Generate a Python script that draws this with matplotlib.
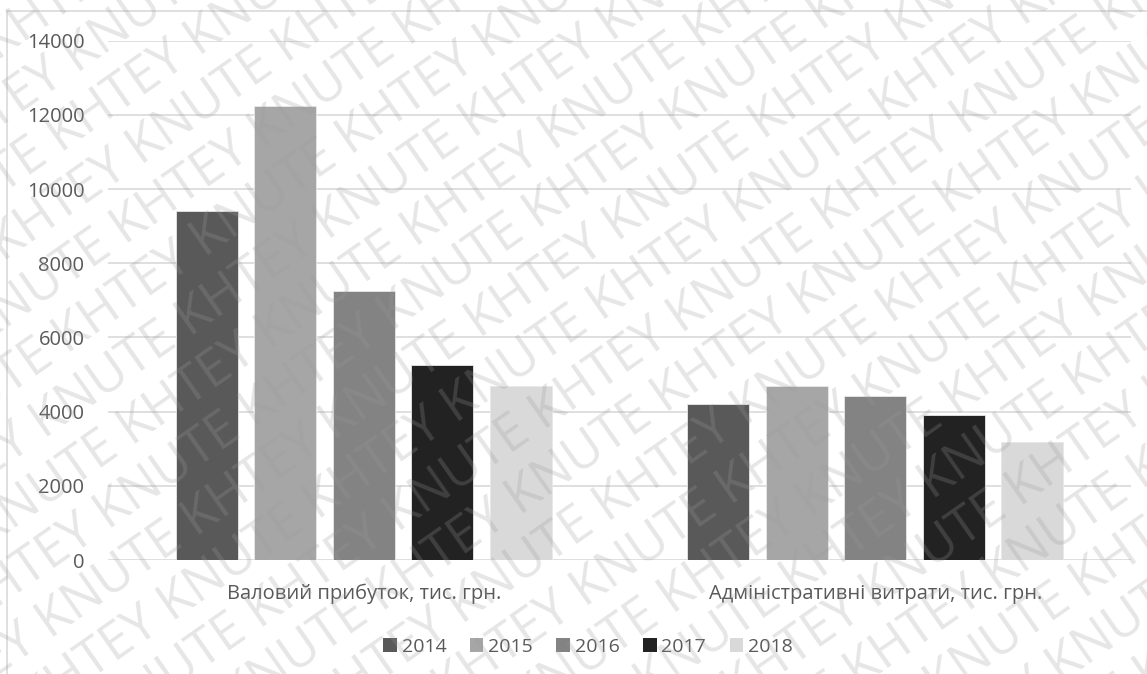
import numpy as np
import matplotlib
matplotlib.use("Agg")
import matplotlib.pyplot as plt
from matplotlib.patches import Rectangle, Patch

plt.rcParams["font.family"] = ["Open Sans", "DejaVu Sans"]

categories = ["Валовий прибуток, тис. грн.", "Адміністративні витрати, тис. грн."]
years = ["2014", "2015", "2016", "2017", "2018"]
values = {
    "2014": [9420, 4210],
    "2015": [12240, 4690],
    "2016": [7260, 4430],
    "2017": [5260, 3900],
    "2018": [4690, 3190],
}
colors = ["#595959", "#a6a6a6", "#838383", "#222222", "#d9d9d9"]
yticks = [0, 2000, 4000, 6000, 8000, 10000, 12000, 14000]

W, H = 1147, 674
fig = plt.figure(figsize=(W / 100, H / 100), dpi=100)
fig.patch.set_facecolor("white")

# chart area frame (only top and left edges fall inside the image)
fig.patches.append(Rectangle((7 / W, -0.1), 1.2, 1 - 11 / H + 0.1,
                             transform=fig.transFigure, fill=False,
                             edgecolor="#d9d9d9", linewidth=1.2, zorder=0))

ax = fig.add_axes([108 / W, 114 / H, (1131 - 108) / W, (633.3 - 114) / H])
ax.set_facecolor("none")

x = np.arange(len(categories))
width = 0.121
step = 0.1535
for i, yr in enumerate(years):
    ax.bar(x + (i - 2) * step, values[yr], width, color=colors[i],
           edgecolor="#e8e8e8", linewidth=0.6, zorder=3, label=yr)

ax.set_xlim(-0.5, 1.5)
ax.set_ylim(0, 14000)
ax.set_yticks(yticks)
ax.set_yticklabels([str(v) for v in yticks])
ax.set_xticks(x)
ax.set_xticklabels(categories)
ax.grid(axis="y", color="#d9d9d9", linewidth=1.2, zorder=0)
ax.tick_params(axis="both", length=0, labelsize=14.5, labelcolor="#595959")
ax.tick_params(axis="y", pad=17)
ax.tick_params(axis="x", pad=17)
for s in ax.spines.values():
    s.set_visible(False)

handles = [Patch(facecolor=c, edgecolor="none") for c in colors]
fig.legend(handles, years, loc="center", bbox_to_anchor=(588 / W, 1 - 647 / H),
           ncol=5, frameon=False, fontsize=14, labelcolor="#595959",
           handlelength=0.7, handleheight=0.7, handletextpad=0.25,
           columnspacing=1.2)

# diagonal "KHTEY KNUTE" watermark over the whole chart
ang = 35
rad = np.deg2rad(ang)
ux, uy = np.cos(rad), np.sin(rad)
nx, ny = -np.sin(rad), np.cos(rad)
gap = 56
line = "KHTEY KNUTE " * 10
for k in range(-14, 20):
    shift = (k % 2) * 110
    px = k * gap * nx - 800 * ux + shift * ux
    py = k * gap * ny - 800 * uy + shift * uy
    fig.text(px / W, py / H, line, rotation=ang, rotation_mode="anchor",
             ha="left", va="baseline", fontsize=37, color="#9b9b9b",
             alpha=0.25, zorder=10, transform=fig.transFigure)

fig.savefig("out.png", dpi=100)
